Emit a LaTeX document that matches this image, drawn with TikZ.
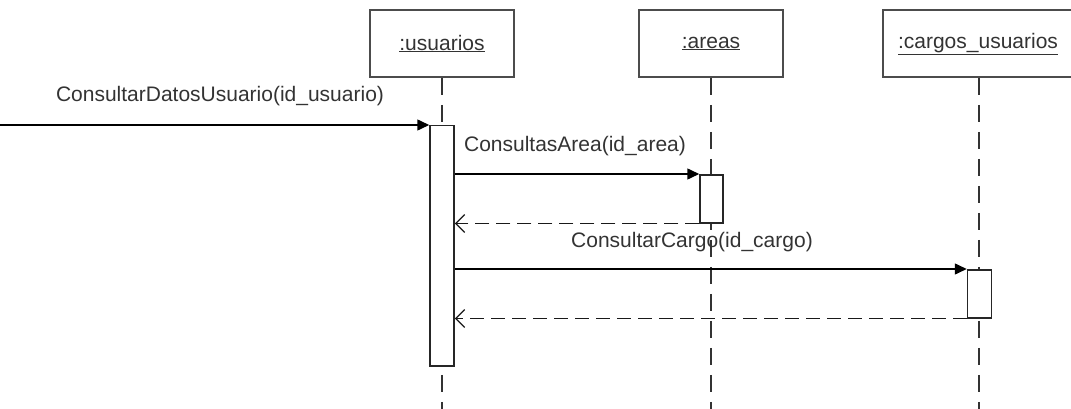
\documentclass[tikz,border=0pt]{standalone}
\usepackage{fontspec}
\setmainfont{Liberation Sans}
\usetikzlibrary{arrows.meta}
\begin{document}
\begin{tikzpicture}[x=1pt,y=-1pt,
  objbox/.style={draw=black!70, line width=1.6pt, minimum width=144pt, minimum height=67pt,
    inner sep=0pt, font=\fontsize{21}{25}\selectfont, text=black!80},
  lifeline/.style={draw=black!80, line width=1.6pt, dash pattern=on 17pt off 10pt},
  activation/.style={draw=black!85, fill=white, line width=1.5pt, inner sep=0pt,
    minimum width=24pt, anchor=north},
  call/.style={draw=black, line width=1.5pt, -{Triangle[length=12pt,width=11pt]}},
  reply/.style={draw=black!90, line width=1.6pt, dash pattern=on 14pt off 7pt,
    -{Straight Barb[length=9pt,width=18pt,line width=1.3pt]}},
  msg/.style={font=\fontsize{21}{25}\selectfont, text=black!80, inner sep=0pt}
]
\useasboundingbox (0,0) rectangle (1071,409);

% object heads
\node[objbox] (u) at (442,43.5) {\underline{:usuarios}};
\node[objbox] (a) at (711,43.5) {\underline{:areas}};
\node[objbox, minimum width=200pt] (c) at (983,43.5) {};
\node[font=\fontsize{21}{25}\selectfont, text=black!80, inner sep=0pt] (ct) at (978,44) {\underline{:cargos\_usuarios}};

% lifelines
\coordinate (uend) at (442,409);
\coordinate (aend) at (711,409);
\coordinate (cend) at (979,409);
\draw[lifeline] (u.south) -- (uend);
\draw[lifeline] (a.south) -- (aend);
\draw[lifeline] (c.south -| cend) -- (cend);

% activations
\node[activation, minimum height=240pt] (ua) at (442,125) {};
\node[activation, minimum height=48pt, minimum width=23pt] (aa) at (711.5,174) {};
\node[activation, minimum height=48pt] (ca) at (979.5,269) {};

% messages
\coordinate (start) at (0,125);
\draw[call] (start) -- (ua.north west);
\node[msg] (m1) at (220,96) {ConsultarDatosUsuario(id\_usuario)};

\draw[call] (ua.east |- aa.north) -- (aa.north west);
\node[msg] (m2) at (575,146) {ConsultasArea(id\_area)};
\draw[reply] (aa.south west) -- (ua.east |- aa.south);

\draw[call] (ua.east |- ca.north) -- (ca.north west);
\node[msg] (m3) at (692,242) {ConsultarCargo(id\_cargo)};
\draw[reply] (ca.south west) -- (ua.east |- ca.south);
\end{tikzpicture}
\end{document}
